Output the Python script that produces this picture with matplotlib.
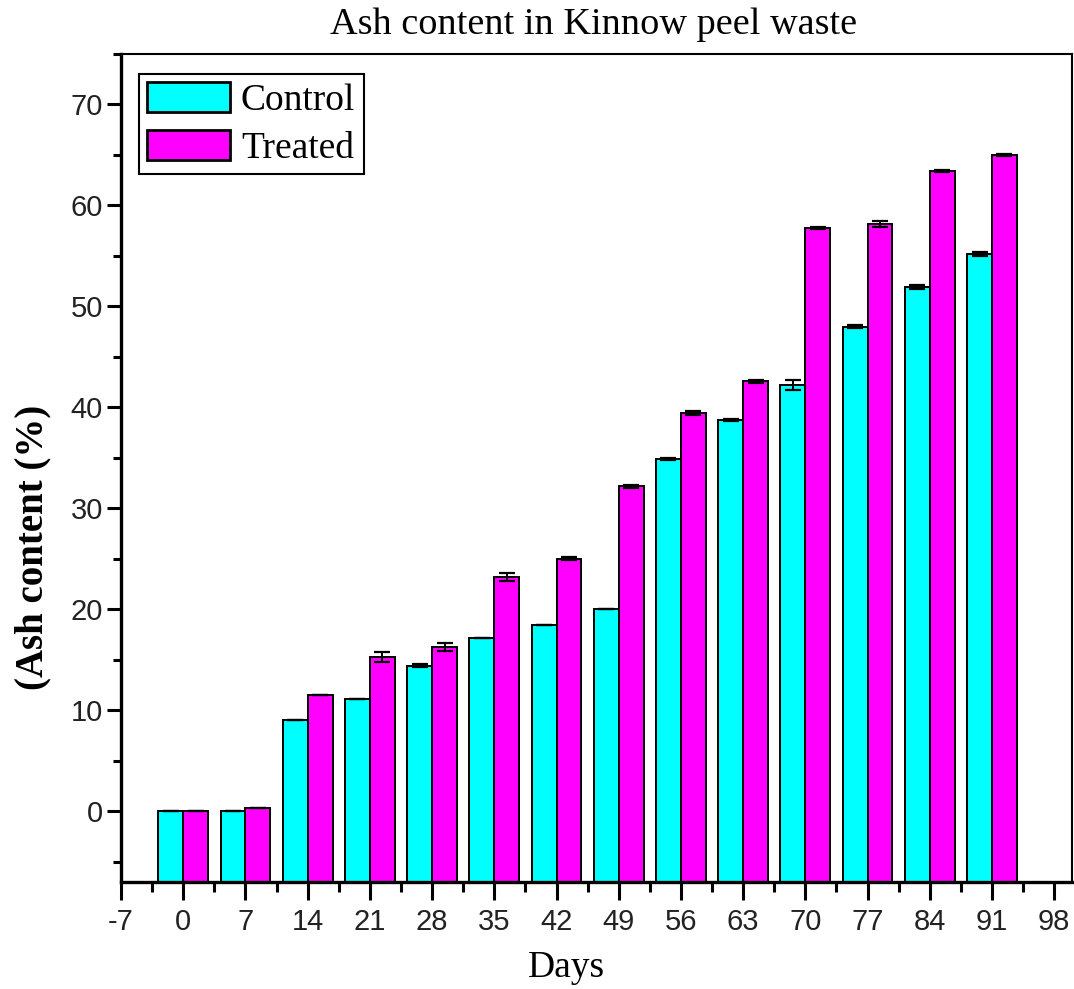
import matplotlib
matplotlib.use("Agg")
import matplotlib.pyplot as plt
from matplotlib.ticker import MultipleLocator
from matplotlib.patches import Patch

plt.rcParams["axes.unicode_minus"] = False

# Sampling days and ash content (%) for the two peel-waste lots
days = [0, 7, 14, 21, 28, 35, 42, 49, 56, 63, 70, 77, 84, 91]
control = [0.0, 0.0, 9.0, 11.1, 14.4, 17.2, 18.5, 20.0, 34.9, 38.8, 42.2, 48.0, 51.9, 55.2]
treated = [0.0, 0.3, 11.5, 15.3, 16.3, 23.2, 25.0, 32.2, 39.4, 42.6, 57.8, 58.2, 63.4, 65.0]
control_err = [0.0, 0.0, 0.0, 0.0, 0.15, 0.0, 0.0, 0.0, 0.1, 0.1, 0.5, 0.15, 0.2, 0.2]
treated_err = [0.0, 0.0, 0.0, 0.5, 0.4, 0.4, 0.15, 0.15, 0.2, 0.15, 0.1, 0.3, 0.1, 0.1]
xticks = [-7, 0, 7, 14, 21, 28, 35, 42, 49, 56, 63, 70, 77, 84, 91, 98]
yticks = [0, 10, 20, 30, 40, 50, 60, 70]

serif = ["Liberation Serif", "DejaVu Serif"]
sans = ["Liberation Sans", "DejaVu Sans"]

W, H = 1074, 989
fig = plt.figure(figsize=(W / 100, H / 100), dpi=100)
ax = fig.add_axes([121 / W, 1 - 882 / H, (1072 - 121) / W, (882 - 54) / H])

ymin, ymax = -7, 75
bw = 2.8
base = ymin
ctrl_h = [v - base for v in control]
trt_h = [v - base for v in treated]
xc = [d - bw for d in days]

ax.bar(xc, ctrl_h, width=bw, bottom=base, align="edge", color="#00FFFF",
       edgecolor="black", linewidth=1.4, zorder=2)
ax.bar(days, trt_h, width=bw, bottom=base, align="edge", color="#FF00FF",
       edgecolor="black", linewidth=1.4, zorder=2)
ax.errorbar([d - bw / 2 for d in days], control, yerr=control_err, fmt="none",
            ecolor="black", elinewidth=1.4, capsize=5.5, capthick=1.6, zorder=3)
ax.errorbar([d + bw / 2 for d in days], treated, yerr=treated_err, fmt="none",
            ecolor="black", elinewidth=1.4, capsize=5.5, capthick=1.6, zorder=3)

ax.set_xlim(-7, 100)
ax.set_ylim(ymin, ymax)
ax.set_xticks(xticks)
ax.set_yticks(yticks)
ax.xaxis.set_minor_locator(MultipleLocator(3.5))
ax.yaxis.set_minor_locator(MultipleLocator(5))

ax.tick_params(axis="x", which="major", direction="out", length=13, width=2.2,
               pad=6, labelsize=21, labelcolor="#222222")
ax.tick_params(axis="x", which="minor", direction="out", length=7, width=2.2)
ax.tick_params(axis="y", which="major", direction="out", length=10, width=2.2,
               pad=3, labelsize=21, labelcolor="#222222")
ax.tick_params(axis="y", which="minor", direction="out", length=6, width=2.2)
for lab in ax.get_xticklabels() + ax.get_yticklabels():
    lab.set_fontfamily(sans)

for side in ("left", "bottom"):
    ax.spines[side].set_linewidth(2.4)
for side in ("top", "right"):
    ax.spines[side].set_linewidth(1.5)

handles = [Patch(facecolor="#00FFFF", edgecolor="black", linewidth=2.0),
           Patch(facecolor="#FF00FF", edgecolor="black", linewidth=2.0)]
leg = ax.legend(handles, ["Control", "Treated"], loc="upper left",
                bbox_to_anchor=((139 - 121) / 951, 1 - (74 - 54) / 828),
                borderaxespad=0, prop={"family": serif, "size": 27},
                handlelength=2.2, handleheight=0.85, handletextpad=0.3,
                labelspacing=0.32, borderpad=0.22, fancybox=False,
                framealpha=1, edgecolor="black")
leg.get_frame().set_linewidth(1.5)

fig.text(594 / W, 1 - 25 / H, "Ash content in Kinnow peel waste",
         ha="center", va="center", fontsize=27.5, family=serif)
fig.text(566 / W, 1 - 968 / H, "Days", ha="center", va="center",
         fontsize=27, family=serif)
fig.text(33 / W, 1 - 547 / H, "(Ash content (%)", ha="center", va="center",
         rotation=90, fontsize=28, fontweight="bold", family=serif)

fig.savefig("out.png", dpi=100)
